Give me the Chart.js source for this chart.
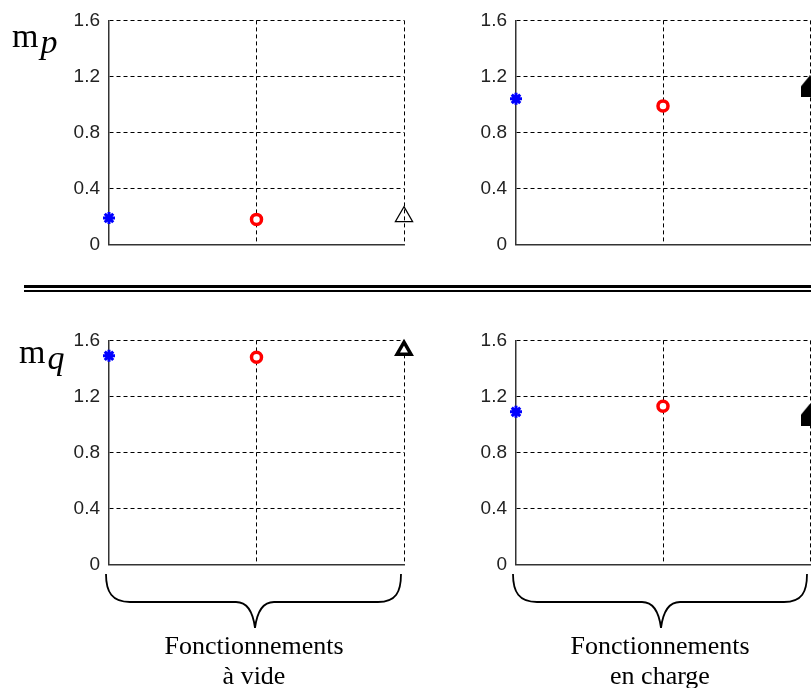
<!DOCTYPE html>
<html>
<head>
<meta charset="utf-8">
<script src="https://cdn.jsdelivr.net/npm/chart.js@4.4.0/dist/chart.umd.min.js"></script>
<style>
  body { margin: 0; background: #fff; }
  #page { position: relative; width: 811px; height: 688px; overflow: hidden; background: #fff; }
  #page canvas { position: absolute; }
  .lab { position: absolute; font-family: "Liberation Serif", "Times New Roman", serif; font-size: 34px; line-height: 34px; color: #000; white-space: nowrap; }
  .lab i { position: relative; top: 6px; margin-left: 2px; }
  .txt { position: absolute; width: 300px; text-align: center; font-family: "Liberation Serif", "Times New Roman", serif; font-size: 26px; line-height: 30px; color: #000; }
  .sep { position: absolute; left: 24px; width: 787px; background: #000; }
  svg { position: absolute; left: 0; top: 0; }
</style>
</head>
<body>
<div id="page">
  <canvas id="mpVide" width="420" height="265" style="left:0;top:0"></canvas>
  <canvas id="mpCharge" width="391" height="265" style="left:420px;top:0"></canvas>
  <canvas id="mqVide" width="420" height="265" style="left:0;top:320px"></canvas>
  <canvas id="mqCharge" width="391" height="265" style="left:420px;top:320px"></canvas>

  <div class="lab" style="left:12px;top:19px">m<i>p</i></div>
  <div class="lab" style="left:19px;top:335px">m<i>q</i></div>

  <div class="sep" style="top:285px;height:3px"></div>
  <div class="sep" style="top:290px;height:2px"></div>

  <svg width="811" height="688">
    <path d="M106,574 C106,592 112,602 130,602 L236,602 C248,602 253,612 255,628 C257,612 262,602 274,602 L378,602 C396,602 401,592 401,574" fill="none" stroke="#000" stroke-width="1.8"/>
    <path d="M513,574 C513,592 519,602 537,602 L642,602 C654,602 659,612 661,628 C663,612 668,602 680,602 L784,602 C802,602 807,592 807,574" fill="none" stroke="#000" stroke-width="1.8"/>
  </svg>

  <div class="txt" style="left:104px;top:631px">Fonctionnements<br>à vide</div>
  <div class="txt" style="left:510px;top:631px">Fonctionnements<br>en charge</div>
</div>

<script>
// positions des trois essais (axe x sans etiquettes)
var positions = ['1', '2', '3'];
var yTicks = [0, 0.4, 0.8, 1.2, 1.6];

// m_p
var mpVide = [0.19, 0.18, 0.20];
var mpCharge = [1.04, 0.99, 1.13];
// m_q
var mqVide = [1.49, 1.48, 1.53];
var mqCharge = [1.09, 1.13, 1.07];

// gros triangle noir (coupe au bord droit)
function makeBigTriangle(){

  var c = document.createElement('canvas');
  c.width = 18;
  c.height = 22;
  var g = c.getContext('2d');
  g.fillStyle = '#000';
  g.beginPath();
  g.moveTo(9, 0);
  g.lineTo(0, 11);
  g.lineTo(0, 22);
  g.lineTo(18, 22);
  g.lineTo(18, 11);
  g.closePath();
  g.fill();
  return c;
}

function gridColor(c){
  return c.index === 0 ? 'rgba(0,0,0,0)' : '#000';
}

function gridDash(c){
  return c.type === 'tick' ? [4, 3] : [];
}

function drawPanel(id, valori, yWidth, padTop, padRight, padBottom, black){

  var ctx = document.getElementById(id).getContext('2d');
  var chart = new Chart(ctx, {
    type: 'line',
    data: {
      labels: positions,
      datasets: [{
        data: valori,
        showLine: false,
        clip: false,
        pointStyle: ['star', 'circle', black.style],
        pointRadius: [6, 5, black.radius],
        pointBorderWidth: [3, 3.5, black.width],
        pointBorderColor: ['#0000ff', '#ff0000', '#000000'],
        pointBackgroundColor: ['#0000ff', '#ffffff', black.fill],
      }],
    },
    options: {
      responsive: false,
      animation: false,
      events: [],
      layout: { autoPadding: false, padding: { top: padTop, right: padRight, bottom: padBottom, left: 0 } },
      plugins: { legend: { display: false }, tooltip: { enabled: false } },
      scales: {
        x: {
          offset: false,
          ticks: { display: false },
          grid: { color: gridColor, lineWidth: 1, drawTicks: false },
          border: { display: true, color: '#333', width: 1.5, dash: gridDash },
          afterFit: function(s){ s.height = 0; }
        },
        y: {
          min: 0,
          max: 1.6,
          afterBuildTicks: function(s){
            s.ticks = yTicks.map(function(v){ return { value: v }; });
          },
          ticks: {
            color: '#222',
            padding: 9,
            font: { family: "'Liberation Sans', Arial, sans-serif", size: 19 },
            callback: function(v){ return String(v); }
          },
          grid: { color: gridColor, lineWidth: 1, drawTicks: false },
          border: { display: true, color: '#333', width: 1.5, dash: gridDash },
          afterFit: function(s){ s.width = yWidth; }
        }
      }
    }
  });
  return chart;
}

var bigTri = makeBigTriangle();

drawPanel('mpVide', mpVide, 109, 16, 16, 17,
  { style: 'triangle', radius: 10, width: 1.2, fill: 'rgba(0,0,0,0)' });
drawPanel('mpCharge', mpCharge, 96, 16, 1, 17,
  { style: bigTri, radius: 9, width: 0, fill: '#000' });
drawPanel('mqVide', mqVide, 109, 17, 16, 16,
  { style: 'triangle', radius: 8, width: 3.5, fill: '#fff' });
drawPanel('mqCharge', mqCharge, 96, 17, 1, 16,
  { style: bigTri, radius: 9, width: 0, fill: '#000' });
</script>
</body>
</html>
